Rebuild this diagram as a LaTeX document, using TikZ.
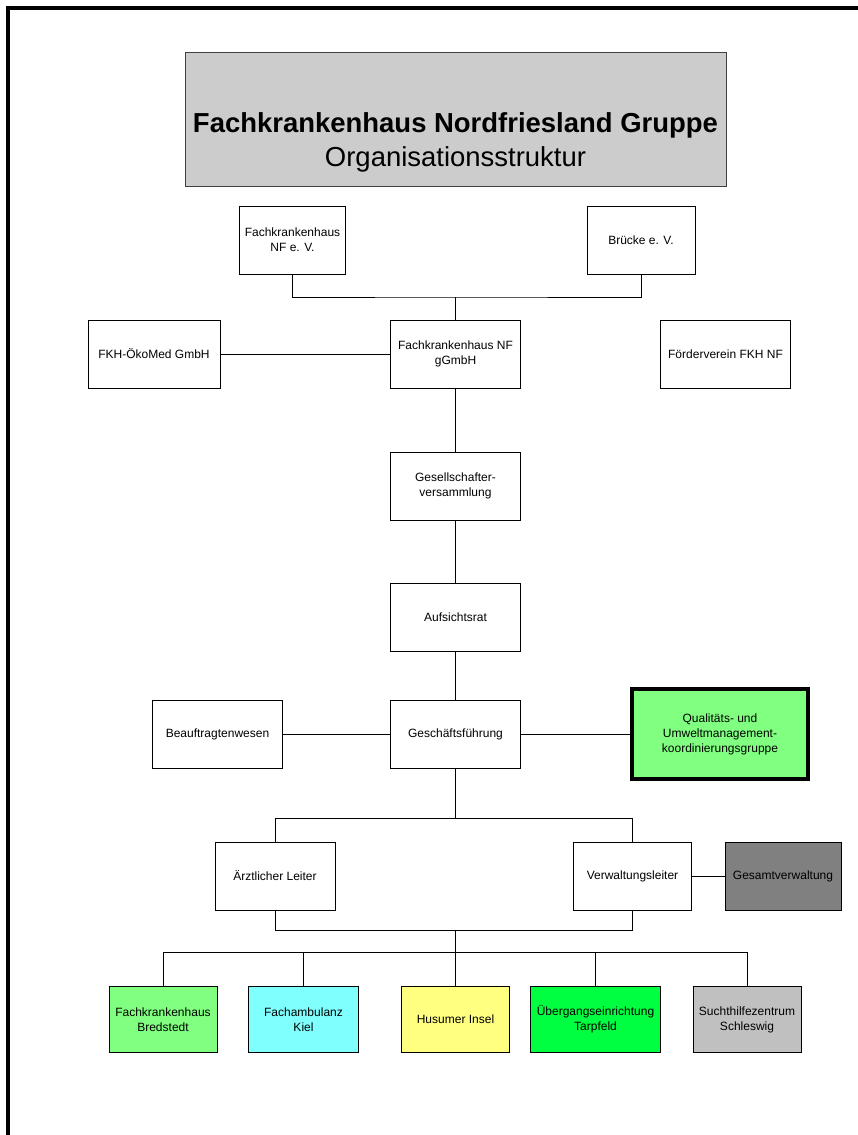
\documentclass[tikz,border=0pt]{standalone}
\usepackage{fontspec}
\setmainfont{Liberation Sans}
\usepackage{xcolor}
\usepackage{tikz}
\usetikzlibrary{calc}
\definecolor{titlebg}{HTML}{CCCCCC}
\definecolor{lgreen}{HTML}{80FF80}
\definecolor{lcyan}{HTML}{80FFFF}
\definecolor{lyellow}{HTML}{FFFF80}
\definecolor{bgreen}{HTML}{00FF40}
\definecolor{lgray}{HTML}{C0C0C0}
\definecolor{dgray}{HTML}{808080}
\tikzset{
  box/.style={draw=black, line width=0.75pt, fill=white, align=center, inner sep=1pt,
    font=\fontsize{9}{11.25}\selectfont, minimum height=51pt},
  boxq/.style={box, line width=2.3pt, fill=lgreen},
  ttlbox/.style={draw=black!75, line width=0.75pt, fill=titlebg},
  ttl/.style={align=center, font=\fontsize{20.6}{25.5}\selectfont},
  link/.style={draw=black, line width=0.75pt},
  frame/.style={draw=black, line width=2.4pt},
}

\begin{document}
\begin{tikzpicture}[x=0.75pt, y=-0.75pt]
  \useasboundingbox (0,0) rectangle (857,1135);
  \draw[frame] (8,1140) -- (8,8) -- (862,8);

  \node[ttlbox, minimum width=405.75pt, minimum height=100.5pt] (titlebox) at (455.5,119) {};
  \node[ttl] (title) at (455.5,142)
    {\textbf{Fachkrankenhaus Nordfriesland Gruppe}\\Organisationsstruktur};

  \node[box, minimum width=80pt] (fnfev) at (292.5,240) {Fachkrankenhaus\\NF e. V.};
  \node[box, minimum width=81pt] (bruecke) at (641,240) {Brücke e. V.};
  \node[box, minimum width=99pt] (oekomed) at (154,354) {FKH-ÖkoMed GmbH};
  \node[box, minimum width=98pt] (ggmbh) at (455.5,354) {Fachkrankenhaus NF\\gGmbH};
  \node[box, minimum width=98pt] (foerder) at (725.5,354) {Förderverein FKH NF};
  \node[box, minimum width=98pt] (gesv) at (455.5,486) {Gesellschafter-\\versammlung};
  \node[box, minimum width=98pt] (aufs) at (455.5,617.5) {Aufsichtsrat};
  \node[box, minimum width=98pt] (gf) at (455.5,734) {Geschäftsführung};
  \node[box, minimum width=98pt] (beauf) at (217.5,734) {Beauftragtenwesen};
  \node[boxq, minimum width=132pt, minimum height=67.5pt] (qual) at (720,734)
    {Qualitäts- und\\Umweltmanagement-\\koordinierungsgruppe};
  \node[box, minimum width=90pt] (al) at (275,876) {Ärztlicher Leiter};
  \node[box, minimum width=88pt] (vl) at (632.5,876) {Verwaltungsleiter};
  \node[box, fill=dgray, minimum width=87pt] (gv) at (783,876) {Gesamtverwaltung};

  \node[box, fill=lgreen, minimum width=81pt, minimum height=50pt] (bred) at (163,1019.5)
    {Fachkrankenhaus\\Bredstedt};
  \node[box, fill=lcyan, minimum width=82pt, minimum height=50pt] (kiel) at (303.5,1019.5)
    {Fachambulanz\\Kiel};
  \node[box, fill=lyellow, minimum width=81pt, minimum height=50pt] (husum) at (455.5,1019.5)
    {Husumer Insel};
  \node[box, fill=bgreen, minimum width=97pt, minimum height=50pt] (tarp) at (595.5,1019.5)
    {Übergangseinrichtung\\Tarpfeld};
  \node[box, fill=lgray, minimum width=81pt, minimum height=50pt] (schles) at (747,1019.5)
    {Suchthilfezentrum\\Schleswig};

  \coordinate (busA) at (455.5,297);
  \coordinate (busB) at (455.5,818);
  \coordinate (busC) at (455.5,930);
  \coordinate (busD) at (455.5,952);

  \draw[link] (fnfev.south) |- (busA) -| (bruecke.south);
  \draw[link] (busA) -- (ggmbh.north);
  \draw[link] (oekomed.east) -- (ggmbh.west);
  \draw[link] (ggmbh.south) -- (gesv.north);
  \draw[link] (gesv.south) -- (aufs.north);
  \draw[link] (aufs.south) -- (gf.north);
  \draw[link] (beauf.east) -- (gf.west);
  \draw[link] (gf.east) -- (qual.west);
  \draw[link] (gf.south) -- (busB);
  \draw[link] (al.north) |- (busB) -| (vl.north);
  \draw[link] (vl.east) -- (gv.west);
  \draw[link] (al.south) |- (busC) -| (vl.south);
  \draw[link] (busC) -- (husum.north);
  \draw[link] (bred.north) |- (busD) -| (schles.north);
  \draw[link] (kiel.north) -- (kiel.north |- busD);
  \draw[link] (tarp.north) -- (tarp.north |- busD);
\end{tikzpicture}
\end{document}
